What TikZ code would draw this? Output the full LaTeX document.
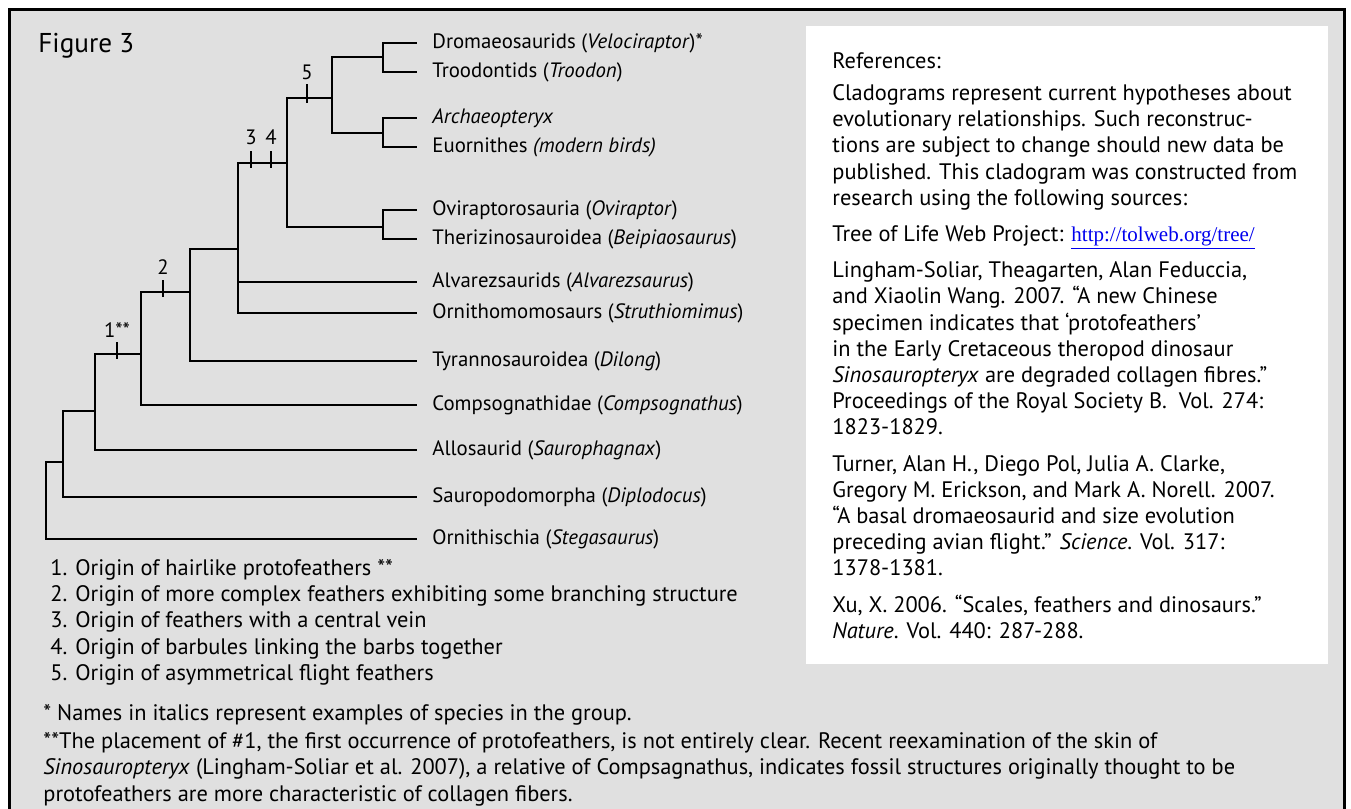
\documentclass[tikz,border=0pt]{standalone}
\usepackage{fontspec}
\setmainfont{PT Sans}
\newfontfamily\linkfont{Liberation Serif}
\usetikzlibrary{positioning}
\definecolor{PanelGray}{HTML}{E0E0E0}
\definecolor{LinkBlue}{HTML}{0000EE}
\tikzset{
  frame/.style={draw=black, line width=1.5pt, fill=PanelGray},
  refpanel/.style={fill=white, draw=none},
  branch/.style={draw=black, line width=1.45pt},
  tick/.style={draw=black, line width=1.45pt},
  leaf/.style={anchor=west, inner xsep=7.5pt, inner ysep=0pt, text height=7pt, text depth=2pt, font=\fontsize{10.4}{12}\selectfont},
  marklabel/.style={inner sep=0pt, font=\fontsize{10.4}{12}\selectfont},
  bodytext/.style={anchor=north west, inner sep=0pt, align=left, font=\fontsize{11.2}{13.1}\selectfont},
  title/.style={anchor=base west, inner sep=0pt, font=\fontsize{13.6}{17}\selectfont}
}

\begin{document}
\begin{tikzpicture}[x=0.5pt, y=-0.5pt]
\useasboundingbox (0,0) rectangle (1351,809);
\fill[white] (0,0) rectangle (1351,809);
\draw[frame] (9,9) rectangle (1344,840);
\fill[refpanel] (806,26) rectangle (1328,664);
\node[title] (fig) at (38,52) {Figure 3};

\node[leaf] (dro) at (417,43) {Dromaeosaurids (\textit{Velociraptor})*};
\node[leaf] (troo) at (417,72) {Troodontids (\textit{Troodon})};
\node[leaf] (arch) at (417,118) {\textit{Archaeopteryx}};
\node[leaf] (euor) at (417,147) {Euornithes \textit{(modern birds)}};
\node[leaf] (ovi) at (417,210) {Oviraptorosauria (\textit{Oviraptor})};
\node[leaf] (ther) at (417,239) {Therizinosauroidea (\textit{Beipiaosaurus})};
\node[leaf] (alv) at (417,282) {Alvarezsaurids (\textit{Alvarezsaurus})};
\node[leaf] (orn) at (417,313) {Ornithomomosaurs (\textit{Struthiomimus})};
\node[leaf] (tyr) at (417,361) {Tyrannosauroidea (\textit{Dilong})};
\node[leaf] (comp) at (417,405) {Compsognathidae (\textit{Compsognathus})};
\node[leaf] (allo) at (417,450) {Allosaurid (\textit{Saurophagnax})};
\node[leaf] (saur) at (417,497) {Sauropodomorpha (\textit{Diplodocus})};
\node[leaf] (ornith) at (417,539) {Ornithischia (\textit{Stegasaurus})};

\coordinate (root) at (46,500);
\coordinate (dinos) at (63,462);
\coordinate (theros) at (95,411);
\coordinate (coelu) at (141,354);
\coordinate (tyran) at (190,292);
\coordinate (manir) at (238,249);
\coordinate (pennar) at (287,163);
\coordinate (paraves) at (332,98);
\coordinate (deino) at (383,57);
\coordinate (avial) at (383,133);
\coordinate (ovith) at (383,227);

\draw[branch] (root) |- (dinos);
\draw[branch] (root) |- (ornith.west);
\draw[branch] (dinos) |- (theros);
\draw[branch] (dinos) |- (saur.west);
\draw[branch] (theros) |- (coelu);
\draw[branch] (theros) |- (allo.west);
\draw[branch] (coelu) |- (tyran);
\draw[branch] (coelu) |- (comp.west);
\draw[branch] (tyran) |- (manir);
\draw[branch] (tyran) |- (tyr.west);
\draw[branch] (manir) |- (pennar);
\draw[branch] (manir) |- (alv.west);
\draw[branch] (manir) |- (orn.west);
\draw[branch] (pennar) |- (paraves);
\draw[branch] (pennar) |- (ovith);
\draw[branch] (paraves) |- (deino);
\draw[branch] (paraves) |- (avial);
\draw[branch] (deino) |- (dro.west);
\draw[branch] (deino) |- (troo.west);
\draw[branch] (avial) |- (arch.west);
\draw[branch] (avial) |- (euor.west);
\draw[branch] (ovith) |- (ovi.west);
\draw[branch] (ovith) |- (ther.west);

\coordinate (t1) at (117,354);
\coordinate (t2) at (163,292);
\coordinate (t3) at (251,163);
\coordinate (t4) at (271,163);
\coordinate (t5) at (307,98);
\draw[tick] ([yshift=6pt]t1) -- ([yshift=-2.5pt]t1);
\draw[tick] ([yshift=6pt]t2) -- ([yshift=-2.5pt]t2);
\draw[tick] ([yshift=6pt]t3) -- ([yshift=-2.5pt]t3);
\draw[tick] ([yshift=6pt]t4) -- ([yshift=-2.5pt]t4);
\draw[tick] ([yshift=7pt]t5) -- ([yshift=-2.5pt]t5);
\node[marklabel] (m1) at (117,330) {1**};
\node[marklabel] (m2) at (163,267) {2};
\node[marklabel] (m3) at (251,137) {3};
\node[marklabel] (m4) at (271,137) {4};
\node[marklabel] (m5) at (307,72) {5};

\node[bodytext] (legend) at (50,559) {1. Origin of hairlike protofeathers **\\
2. Origin of more complex feathers exhibiting some branching structure\\
3. Origin of feathers with a central vein\\
4. Origin of barbules linking the barbs together\\
5. Origin of asymmetrical flight feathers};

\node[bodytext] (notes) at (43,704) {* Names in italics represent examples of species in the group.\\[1pt]
**The placement of \#1, the first occurrence of protofeathers, is not entirely clear. Recent reexamination of the skin of\\
\textit{Sinosauropteryx} (Lingham-Soliar et al. 2007), a relative of Compsagnathus, indicates fossil structures originally thought to be\\
protofeathers are more characteristic of collagen fibers.};

\node[bodytext] (refs) at (832,52) {References:\\[3pt]
Cladograms represent current hypotheses about\\
evolutionary relationships. Such reconstruc-\\
tions are subject to change should new data be\\
published. This cladogram was constructed from\\
research using the following sources:\\[5pt]
Tree of Life Web Project: {\linkfont\fontsize{10.5}{13}\selectfont\color{LinkBlue}\underline{http://tolweb.org/tree/}}\\[5pt]
Lingham-Soliar, Theagarten, Alan Feduccia,\\
and Xiaolin Wang. 2007. ``A new Chinese\\
specimen indicates that `protofeathers'\\
in the Early Cretaceous theropod dinosaur\\
\textit{Sinosauropteryx} are degraded collagen fibres.''\\
Proceedings of the Royal Society B.\ \ Vol. 274:\\
1823-1829.\\[5pt]
Turner, Alan H., Diego Pol, Julia A. Clarke,\\
Gregory M. Erickson, and Mark A. Norell. 2007.\\
``A basal dromaeosaurid and size evolution\\
preceding avian flight.'' \textit{Science}. Vol. 317:\\
1378-1381.\\[5pt]
Xu, X. 2006. ``Scales, feathers and dinosaurs.''\\
\textit{Nature}. Vol. 440: 287-288.};
\end{tikzpicture}
\end{document}
